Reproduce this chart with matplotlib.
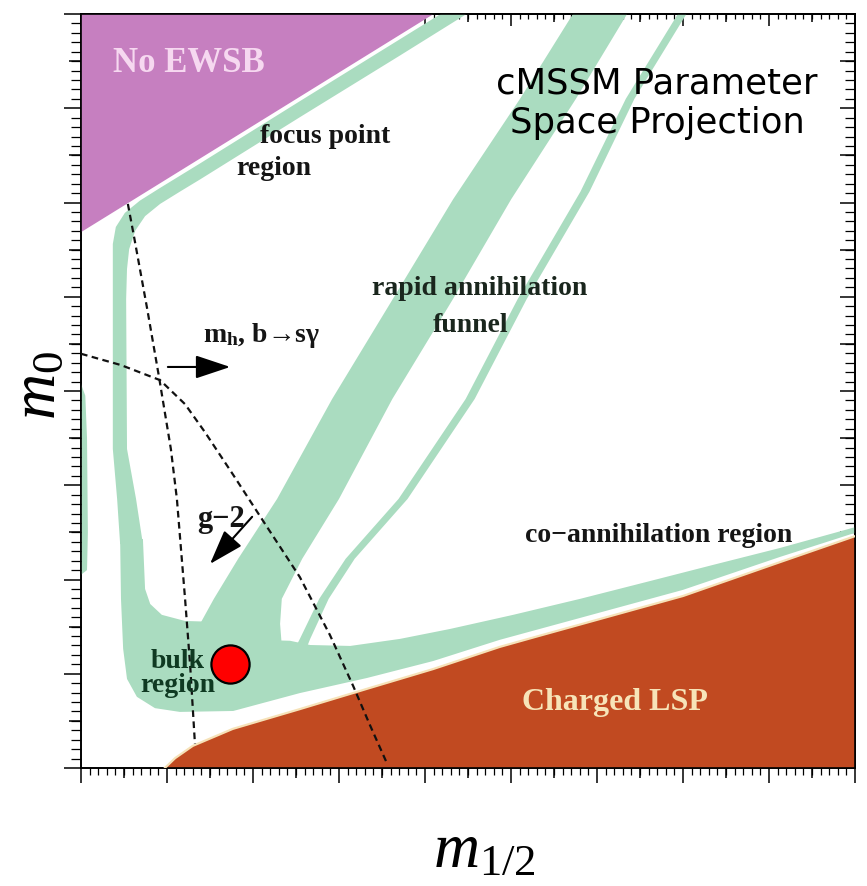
import matplotlib
matplotlib.use("Agg")
import matplotlib.pyplot as plt
import numpy as np
from matplotlib.ticker import MultipleLocator, FixedLocator

plt.rcParams["mathtext.fontset"] = "custom"
plt.rcParams["mathtext.rm"] = "Liberation Serif"
plt.rcParams["mathtext.it"] = "Liberation Serif:italic"
plt.rcParams["mathtext.bf"] = "Liberation Serif:bold"

# ---------------- regions of the (m_1/2, m_0) plane, GeV ----------------
ewsb_m12 = [0, 820, 0]
ewsb_m0 = [1600, 1600, 1137]

lsp_m12 = [195, 219, 260, 353, 509, 665, 819, 974, 1060, 1400, 1626, 1800]
lsp_m0 = [0, 21, 47, 83, 125, 168, 210, 257, 279, 365, 437, 492]

# focus-point strip: outer edge down, inner edge back up
focus_m12 = [863, 509, 277, 184, 137, 102, 81, 74, 74, 74, 84, 91,
             144, 128, 107, 105, 107, 112, 126, 149, 184, 230, 277, 509, 742, 923]
focus_m0 = [1615, 1415, 1283, 1231, 1204, 1178, 1148, 1112, 995, 677, 571, 475,
            475, 571, 677, 995, 1059, 1101, 1140, 1171, 1197, 1223, 1249, 1381, 1512, 1615]

# bulk region joined to the co-annihilation strip
bulk_m12 = [91, 93, 98, 107, 130, 172, 230, 354, 509, 665, 819, 974, 1400, 1626, 1800,
            1800, 1626, 1470, 1316, 1161, 1005, 858, 742, 626, 533, 486, 409, 370, 316,
            242, 188, 161, 149, 144]
bulk_m0 = [486, 359, 253, 189, 151, 127, 119, 121, 159, 191, 227, 272, 378, 448, 499,
           511, 467, 431, 395, 359, 325, 295, 274, 259, 261, 270, 272, 291, 310,
           312, 325, 348, 380, 486]

# sliver along the low-m_1/2 edge
edge_m12 = [0, 10, 14, 16, 14, 0]
edge_m0 = [815, 790, 700, 500, 420, 410]

# rapid-annihilation funnel: centre line and width
funnel_m0 = [1632, 1600, 1420, 1207, 995, 783, 571, 444, 359, 306, 253]
funnel_m12 = [1228, 1207, 1086, 933, 795, 654, 528, 440, 388, 370, 351]
funnel_width = [126, 126, 130, 135, 140, 140, 144, 149, 158, 186, 233]

thin_m0 = [1632, 1600, 1420, 1223, 995, 783, 571, 444, 359, 274, 242]
thin_m12 = [1416, 1398, 1277, 1172, 1026, 905, 749, 626, 565, 521, 505]
thin_width = [20, 20, 20, 21, 21, 21, 21, 21, 22, 24, 28]

# constraint curves
mh_m12 = [109, 123, 154, 181, 209, 223, 242, 254, 265]
mh_m0 = [1197, 1129, 974, 832, 677, 571, 359, 216, 51]
g2_m12 = [0, 93, 184, 242, 288, 354, 428, 509, 579, 633, 672, 712]
g2_m0 = [879, 855, 823, 772, 713, 622, 518, 405, 282, 174, 91, 9]

# benchmark point
bench_m12, bench_m0 = 347, 221

GREEN = "#aadcc0"
PURPLE = "#c67fc0"
BROWN = "#c14a21"


def band(cx, cy, width):
    cx = np.asarray(cx, float)
    cy = np.asarray(cy, float)
    hw = np.asarray(width, float) / 2
    return (np.concatenate([cx - hw, (cx + hw)[::-1]]),
            np.concatenate([cy, cy[::-1]]))


fig = plt.figure(figsize=(8.67, 8.87), dpi=100)
ax = fig.add_axes([81 / 867, 1 - 769 / 887, 774 / 867, 754 / 887])
ax.set_xlim(0, 1800)
ax.set_ylim(0, 1600)

# allowed (relic density) strips
ax.fill(focus_m12, focus_m0, color=GREEN, lw=0, zorder=1)
ax.fill(bulk_m12, bulk_m0, color=GREEN, lw=0, zorder=1)
ax.fill(edge_m12, edge_m0, color=GREEN, lw=0, zorder=1)
fx, fy = band(funnel_m12, funnel_m0, funnel_width)
ax.fill(fx, fy, color=GREEN, lw=0, zorder=1)
tx, ty = band(thin_m12, thin_m0, thin_width)
ax.fill(tx, ty, color=GREEN, lw=0, zorder=1)

# excluded regions
ax.fill(ewsb_m12, ewsb_m0, color=PURPLE, lw=0, zorder=2)
ax.fill(lsp_m12 + [1800], lsp_m0 + [0], color=BROWN, lw=0, zorder=2)
ax.plot(lsp_m12, lsp_m0, color="#f6e2b8", lw=1.6, zorder=3)

# constraint curves
dash = (0, (3.0, 2.0))
ax.plot(mh_m12, mh_m0, color="#111111", lw=1.6, ls=dash, zorder=4)
ax.plot(g2_m12, g2_m0, color="#111111", lw=1.6, ls=dash, zorder=4)

arrow = dict(arrowstyle="-|>,head_length=0.6,head_width=0.2", color="black",
             lw=1.5, mutation_scale=36, shrinkA=0, shrinkB=0)
ax.annotate("", xy=(347, 851), xytext=(202, 851), arrowprops=arrow, zorder=5)
ax.annotate("", xy=(300, 433), xytext=(398, 533), arrowprops=arrow, zorder=5)

serif = dict(family="Liberation Serif", weight="bold", zorder=6)
ax.text(251, 1498, "No EWSB", fontsize=25, color="#f6d8f0", ha="center",
        va="center", **serif)
ax.text(416, 1328, "focus point", fontsize=20, color="#151515", **serif)
ax.text(360, 1260, "region", fontsize=20, color="#151515", **serif)
ax.text(928, 1006, "rapid annihilation", fontsize=20, color="#1a261d",
        ha="center", **serif)
ax.text(907, 927, "funnel", fontsize=20, color="#1a261d", ha="center", **serif)
ax.text(284, 906, r"$\mathbf{m_h}$, b→sγ", fontsize=20, color="#151515",
        family=["Liberation Serif", "DejaVu Serif"], weight="bold", zorder=6)
ax.text(270, 513, "g−2", fontsize=22, color="#151515", **serif)
ax.text(1033, 482, "co−annihilation region", fontsize=20, color="#151515", **serif)
ax.text(226, 214, "bulk", fontsize=20, color="#0f3a22", ha="center", **serif)
ax.text(226, 163, "region", fontsize=20, color="#0f3a22", ha="center", **serif)
ax.text(1242, 125, "Charged LSP", fontsize=23, color="#f7e4b8", ha="center", **serif)

ax.text(1340, 1434, "cMSSM Parameter", fontsize=25.5, color="black",
        ha="center", family="DejaVu Sans", zorder=6)
ax.text(1340, 1350, "Space Projection", fontsize=25.5, color="black",
        ha="center", family="DejaVu Sans", zorder=6)

ax.plot([bench_m12], [bench_m0], "o", ms=27.5, mfc="#ff0000", mec="black",
        mew=1.6, zorder=7)

# frame and ticks
for s in ax.spines.values():
    s.set_linewidth(1.2)
ax.xaxis.set_major_locator(MultipleLocator(200))
ax.xaxis.set_minor_locator(MultipleLocator(20))
ax.yaxis.set_major_locator(MultipleLocator(200))
ax.yaxis.set_minor_locator(MultipleLocator(20))
ax.tick_params(axis="x", which="major", direction="out", length=11, width=1.1,
               bottom=True, top=False, labelbottom=False)
ax.tick_params(axis="x", which="minor", direction="out", length=5, width=0.9,
               bottom=True, top=False)
ax.tick_params(axis="y", which="major", direction="out", length=12, width=1.1,
               left=True, right=False, labelleft=False)
ax.tick_params(axis="y", which="minor", direction="out", length=7, width=0.9,
               left=True, right=False)

half_x = np.arange(100, 1800, 200)
half_y = np.arange(100, 1600, 200)


def side_ticks(kind, loc, direction, major_len, minor_len, ticks, minors=True):
    if kind == "x":
        sec = ax.secondary_xaxis(loc)
        axis = sec.xaxis
    else:
        sec = ax.secondary_yaxis(loc)
        axis = sec.yaxis
    axis.set_major_locator(FixedLocator(ticks))
    axis.set_minor_locator(MultipleLocator(20) if minors else FixedLocator([]))
    sec.tick_params(which="major", direction=direction, length=major_len,
                    width=1.1, labelsize=0, labelcolor="none")
    sec.tick_params(which="minor", direction=direction, length=minor_len, width=0.9)
    for s in sec.spines.values():
        s.set_linewidth(1.2)
    return sec


side_ticks("x", "bottom", "out", 7.5, 0, half_x, minors=False)
side_ticks("y", "left", "out", 9, 0, half_y, minors=False)
side_ticks("x", "top", "in", 8.5, 3.6, np.arange(0, 1801, 200))
side_ticks("x", "top", "in", 6, 0, half_x, minors=False)
side_ticks("y", "right", "in", 11, 7, np.arange(0, 1601, 200))
side_ticks("y", "right", "in", 11, 0, half_y, minors=False)

fig.text(484 / 867, 1 - 867 / 887, r"$m_{1/2}$", fontsize=46, ha="center",
         va="baseline")
fig.text(37 / 867, 1 - 386 / 887, r"$m_0$", fontsize=46, ha="center",
         va="center", rotation=90)

fig.savefig("out.png", dpi=100, facecolor="white")
